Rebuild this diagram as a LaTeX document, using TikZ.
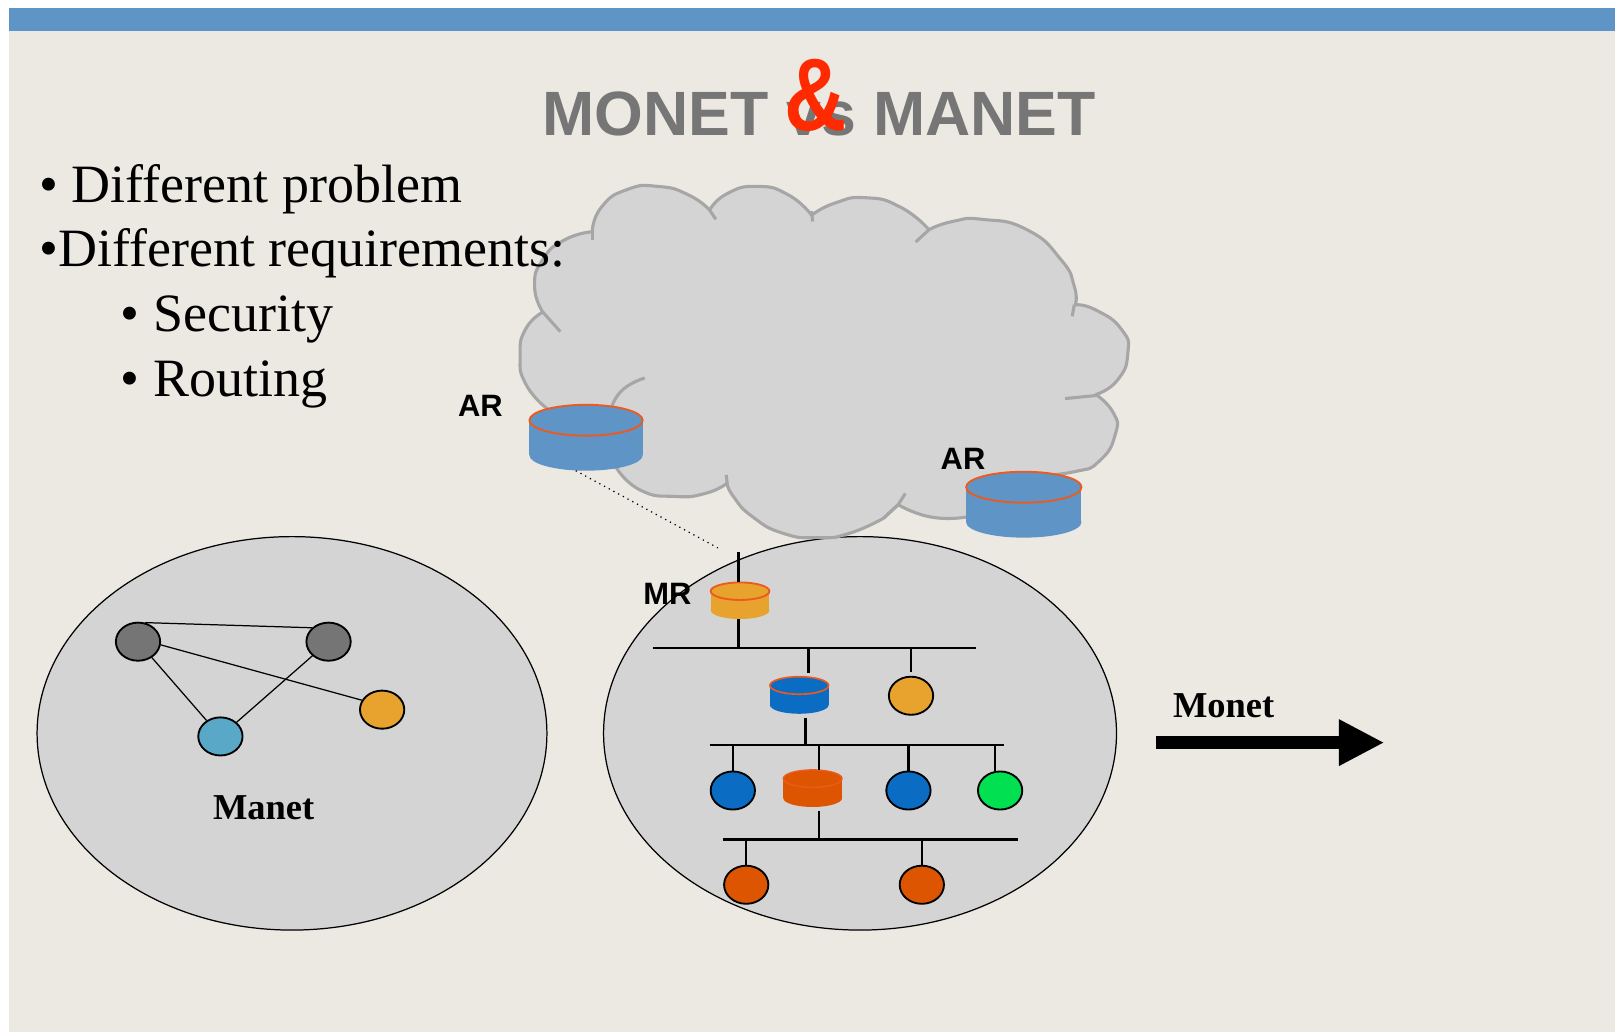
\documentclass[tikz,border=0pt]{standalone}
\usepackage{fontspec}
\setmainfont{Liberation Serif}
\newfontfamily\sansf{Liberation Sans}
\usetikzlibrary{shapes.geometric,arrows.meta}
\definecolor{pagebg}{HTML}{EBE9E2}
\definecolor{barblue}{HTML}{5E94C6}
\definecolor{cloudfill}{HTML}{D4D4D4}
\definecolor{cloudline}{HTML}{A6A6A6}
\definecolor{titlegray}{HTML}{767676}
\definecolor{ampred}{HTML}{FF2A00}
\definecolor{rimorange}{HTML}{EC5A1C}
\definecolor{nodegray}{HTML}{757575}
\definecolor{nodeteal}{HTML}{5AA8C8}
\definecolor{nodeamber}{HTML}{E8A22E}
\definecolor{nodeblue}{HTML}{0B6CC4}
\definecolor{nodegreen}{HTML}{00E050}
\definecolor{noderust}{HTML}{DD5500}
\tikzset{
  netzone/.style={draw=black,line width=.6pt,fill=cloudfill,ellipse,inner sep=0pt,minimum height=191pt},
  hostnode/.style={draw=black,line width=.9pt,ellipse,inner sep=0pt,minimum width=21.5pt,minimum height=18.5pt},
  meshline/.style={draw=black,line width=.6pt},
  wire/.style={draw=black,line width=1.1pt},
  dropline/.style={wire,shorten >=2pt},
  cloudstroke/.style={draw=cloudline,line width=1.5pt,line join=round},
  cylbox/.style={rectangle,inner sep=0pt,outer sep=0pt},
  bullettext/.style={anchor=base west,inner sep=0pt,font=\fontsize{26.2}{30}\selectfont},
  routerlabel/.style={inner sep=0pt,font=\sansf\bfseries\fontsize{15}{18}\selectfont},
  netlabel/.style={inner sep=0pt,font=\bfseries\fontsize{17.7}{20}\selectfont},
  lobe/.style={smooth,tension=.95},
}
% name, cx, top y, rx, ry, height, fill, rim width
\newcommand{\cylnode}[8]{%
  \fill[#7] ({#2-#4},#3) rectangle ({#2+#4},{#3+#6});
  \fill[#7] (#2,{#3+#6}) ellipse [x radius=#4,y radius=#5];
  \fill[#7] (#2,#3) ellipse [x radius=#4,y radius=#5];
  \draw[rimorange,line width=#8] (#2,#3) ellipse [x radius=#4,y radius=#5];
  \node[cylbox,minimum width=#4 pt,minimum height={(#5*2+#6)*.5pt}] (#1) at (#2,{#3+#6/2}) {};
}
\begin{document}
\begin{tikzpicture}[x=.5pt,y=-.5pt]
\useasboundingbox (0,0) rectangle (1568,1005);
\fill[white] (0,0) rectangle (1568,1005);
\fill[pagebg] (9,8) rectangle (1568,1002);
\fill[barblue] (9,8) rectangle (1568,30);

% network domains
\node[netzone,minimum width=247.5pt] (manet) at (283.5,712) {};
\node[netzone,minimum width=249pt] (monet) at (835,712) {};

% cloud
\filldraw[cloudstroke,fill=cloudfill]
  plot[lobe] coordinates {(575,225)(584,201)(609,184)(639,181)(668,189)(689,204)}
  -- plot[lobe] coordinates {(689,204)(706,188)(735,181)(765,189)(788,209)}
  -- plot[lobe] coordinates {(788,209)(811,197)(841,192)(874,201)(902,223)}
  -- plot[lobe] coordinates {(902,223)(925,215)(954,213)(997,223)(1030,252)(1043,278)(1044,296)}
  -- plot[lobe] coordinates {(1044,296)(1064,301)(1089,320)(1095,343)(1085,369)(1064,383)}
  -- plot[lobe] coordinates {(1064,383)(1081,401)(1083,421)(1068,447)(1043,458)(1000,462)}
  -- plot[lobe] coordinates {(938,502)(904,502)(872,490)}
  -- plot[lobe] coordinates {(858,503)(824,518)(794,522)(761,518)(731,502)(712,482)(706,469)}
  -- plot[lobe] coordinates {(706,469)(685,479)(655,482)(622,476)(599,455)}
  -- plot[lobe] coordinates {(529,395)(510,372)(505,346)(510,320)(527,303)}
  -- plot[lobe] coordinates {(527,303)(519,278)(527,252)(548,233)(575,225)};
\draw[cloudstroke] (689,204) -- (695,213);
\draw[cloudstroke] (788,205) -- (789,215);
\draw[cloudstroke] (902,223) -- (889,235);
\draw[cloudstroke] (1043,296) -- (1041,307);
\draw[cloudstroke] (1064,384) -- (1034,387);
\draw[cloudstroke] (858,503) -- (872,490) -- (879,479);
\draw[cloudstroke] (706,469) -- (705,461);
\draw[cloudstroke] (527,303) -- (544,322);
\draw[cloudstroke] (575,225) -- (575,233);
\draw[cloudstroke] plot[lobe] coordinates {(626,367)(605,378)(594,395)};

% routers
\cylnode{arleft}{569}{408}{55}{15}{34}{barblue}{.9pt}
\cylnode{arright}{994}{473}{56}{15}{34}{barblue}{.9pt}
\cylnode{mr}{718.5}{574}{28.5}{8.5}{18.5}{nodeamber}{.9pt}
\cylnode{subblue}{776}{665.5}{28.5}{8.5}{19}{nodeblue}{.8pt}
\cylnode{subrust}{789}{756}{28.5}{8.5}{19}{noderust}{.7pt}

% manet
\node[hostnode,fill=nodegray] (ma) at (134,623) {};
\node[hostnode,fill=nodegray] (mb) at (319,623) {};
\node[hostnode,fill=nodeteal] (mc) at (214,715) {};
\node[hostnode,fill=nodeamber] (md) at (371,689) {};
\draw[meshline] (ma.70) -- (mb.140);
\draw[meshline] (ma.-8) -- (md.155);
\draw[meshline] (ma) -- (mc);
\draw[meshline] (mb) -- (mc);

% monet hosts
\node[hostnode,fill=nodeamber] (hamber) at (884.5,675.5) {};
\node[hostnode,fill=nodeblue] (hblue) at (711.5,767.5) {};
\node[hostnode,fill=nodeblue] (hbluetwo) at (882,767.5) {};
\node[hostnode,fill=nodegreen] (hgreen) at (971,767.5) {};
\node[hostnode,fill=noderust] (hrust) at (724.5,859) {};
\node[hostnode,fill=noderust] (hrusttwo) at (895,859) {};

% buses
\coordinate (busaw) at (634,629);
\coordinate (busae) at (948,629);
\coordinate (busbw) at (689,723);
\coordinate (busbe) at (975,723);
\coordinate (buscw) at (702,815);
\coordinate (busce) at (988,815);
\draw[wire] (busaw) -- (busae);
\draw[wire] (busbw) -- (busbe);
\draw[wire] (buscw) -- (busce);

% drops
\coordinate (mrtop) at (717,536);
\draw[wire] (mrtop) -- (mrtop |- mr.north);
\draw[wire] (mrtop |- mr.south) -- (mrtop |- busaw);
\coordinate (dropa) at (785,629);
\draw[dropline] (dropa) -- (dropa |- subblue.north);
\draw[dropline] (hamber |- busae) -- (hamber);
\coordinate (dropb) at (782,723);
\draw[wire,shorten >=2pt] (dropb) -- (dropb |- subblue.south);
\draw[wire] (hblue |- busbw) -- (hblue);
\coordinate (dropc) at (795.5,723);
\draw[wire] (dropc) -- (dropc |- subrust.north);
\draw[wire] (hbluetwo |- busbw) -- (hbluetwo);
\coordinate (dropd) at (966,723);
\draw[wire] (dropd) -- (dropd |- hgreen.north);
\coordinate (drope) at (795.5,815);
\draw[wire,shorten >=2pt] (drope) -- (drope |- subrust.south);
\draw[wire] (hrust |- buscw) -- (hrust);
\draw[wire] (hrusttwo |- buscw) -- (hrusttwo);

% dotted link
\coordinate (dotend) at (697,532);
\draw[black,line width=.6pt,dotted] ([xshift=-5pt]arleft.south) -- (dotend);

% arrow
\coordinate (arrowstart) at (1122,721);
\coordinate (arrowend) at (1344,721);
\draw[black,line width=6pt,-{Triangle[length=22pt,width=21pt]}] (arrowstart) -- (arrowend);

% texts
\node[anchor=base,inner sep=0pt,text=titlegray,font=\sansf\bfseries\fontsize{30.4}{36}\selectfont] (title) at (795.5,132) {MONET vs MANET};
\node[anchor=base,inner sep=0pt,text=ampred,font=\sansf\bfseries\fontsize{50}{60}\selectfont,xscale=.84] (amp) at (792,127) {\&};
\node[bullettext] (ba) at (38,197) {• Different problem};
\node[bullettext] (bb) at (38,259) {•Different requirements:};
\node[bullettext] (bc) at (117,322) {• Security};
\node[bullettext] (bd) at (117,385) {• Routing};
\node[routerlabel] (lara) at (466.5,394) {AR};
\node[routerlabel] (larb) at (935,446) {AR};
\node[routerlabel] (lmr) at (648,577) {MR};
\node[netlabel] (lmonet) at (1188,685) {Monet};
\node[netlabel] (lmanet) at (256,784) {Manet};
\end{tikzpicture}
\end{document}
